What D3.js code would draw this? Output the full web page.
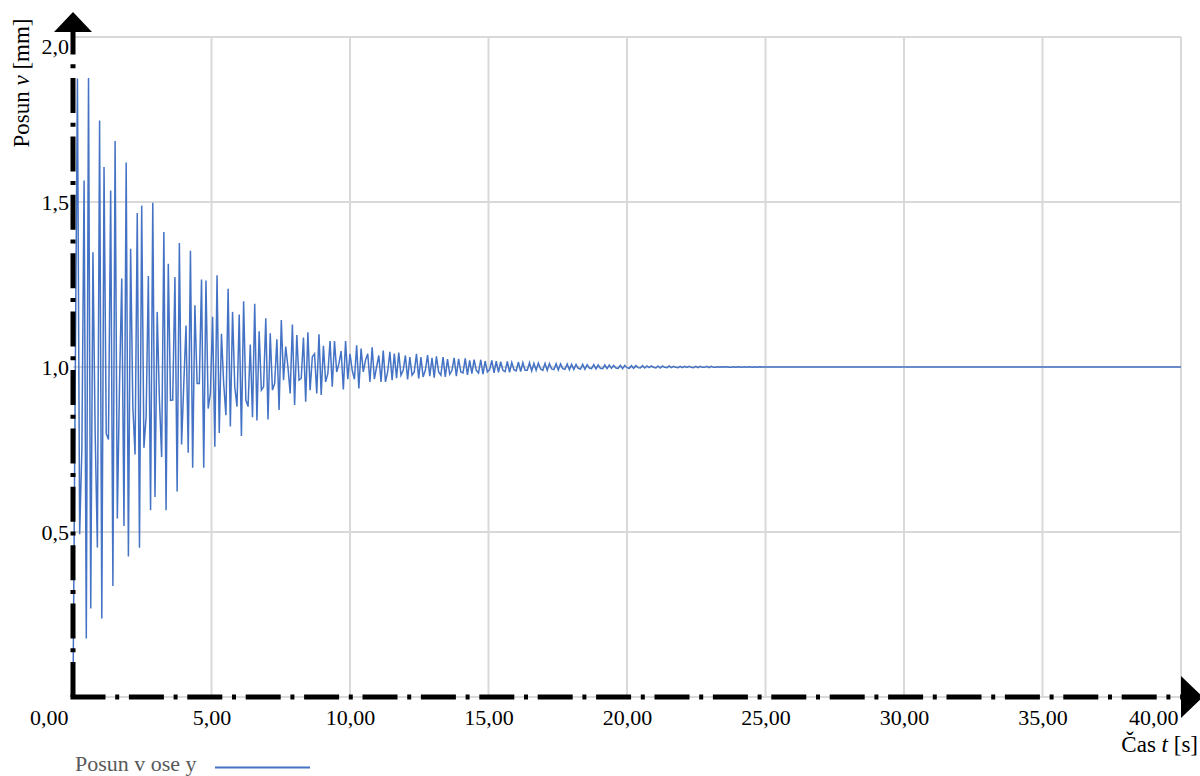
<!DOCTYPE html>
<html>
<head>
<meta charset="utf-8">
<script src="https://cdn.jsdelivr.net/npm/d3@7"></script>
<style>
  body { margin: 0; background: #ffffff; }
  svg { display: block; }
</style>
</head>
<body>
<svg id="chart" width="1200" height="776"></svg>
<script>
// ---- data ----
const sampleStep = 0.08; // s between samples
const displacement = [
  0.00, 0.95, 1.874, 0.493, 0.75, 1.565, 0.177, 1.876, 0.268, 1.348,
  0.80, 0.453, 1.747, 0.238, 1.606, 0.798, 0.78, 1.535, 0.336, 1.685,
  0.541, 0.95, 1.268, 0.518, 1.62, 0.426, 1.358, 0.88, 0.735, 1.467,
  0.452, 1.489, 0.755, 0.85, 1.276, 0.566, 1.498, 0.606, 1.167, 0.90,
  0.727, 1.409, 0.566, 1.313, 0.899, 0.90, 1.273, 0.623, 1.376, 0.765,
  0.95, 1.126, 0.74, 1.352, 0.695, 1.187, 0.95, 0.95, 1.265, 0.695,
  1.262, 0.874, 0.92, 1.152, 0.758, 1.278, 0.80, 1.101, 0.95, 0.854,
  1.237, 0.82, 1.167, 0.94, 0.88, 1.159, 0.791, 1.199, 0.90, 0.88,
  1.068, 0.848, 1.192, 0.838, 1.108, 0.93, 0.94, 1.148, 0.841, 1.102,
  0.93, 0.95, 1.084, 0.87, 1.142, 0.96, 1.062, 1.00, 0.92, 1.129,
  0.885, 1.097, 0.96, 0.966, 1.089, 0.895, 1.105, 0.93, 1.031, 1.04,
  0.92, 1.099, 0.915, 1.064, 0.955, 0.98, 1.079, 0.94, 1.079, 0.985,
  1.01, 1.048, 0.932, 1.079, 0.963, 1.04, 0.99, 0.963, 1.066, 0.935,
  1.056, 0.985, 1.021, 1.04, 0.955, 1.06, 0.963, 1.00, 1.035, 0.955,
  1.05, 0.955, 0.985, 1.046, 0.96, 1.041, 0.966, 1.044, 0.975, 0.99,
  1.035, 0.962, 1.03, 0.975, 0.985, 1.04, 0.965, 1.03, 0.97, 0.99,
  1.036, 0.972, 1.028, 0.968, 1.032, 0.985, 0.975, 1.03, 0.97, 1.024,
  0.978, 0.99, 1.028, 0.972, 1.025, 0.985, 0.982, 1.026, 0.976, 1.02,
  0.98, 1.022, 0.99, 0.982, 1.022, 0.978, 1.018, 0.985, 0.992, 1.02,
  0.982, 1.018, 0.984, 1.016, 0.99, 0.986, 1.017, 0.984, 1.014, 0.992,
  0.988, 1.015, 0.986, 1.013, 0.99, 0.99, 1.013, 0.988, 1.011, 0.99,
  1.012, 0.994, 0.99, 1.011, 0.99, 1.01, 0.994, 0.992, 1.01, 0.991,
  1.009, 0.995, 0.993, 1.009, 0.992, 1.008, 0.993, 1.008, 0.996, 0.994,
  1.008, 0.993, 1.007, 0.997, 0.995, 1.007, 0.994, 1.006, 0.996, 0.995,
  1.006, 0.995, 1.006, 0.996, 1.005, 0.997, 0.996, 1.005, 0.995, 1.005,
  0.998, 0.996, 1.004, 0.996, 1.004, 0.998, 0.997, 1.004, 0.997, 1.003,
  0.998, 1.003, 0.999, 0.997, 1.003, 0.997, 1.003, 0.999, 0.998, 1.003,
  0.998, 1.002, 0.999, 0.998, 1.002, 0.998, 1.002, 0.999, 1.002, 0.999,
  0.998, 1.002, 0.998, 1.002, 0.999, 0.999, 1.002, 0.998, 1.002, 0.999,
  0.999, 1.001, 0.999, 1.001, 1.0, 1.001, 0.999, 0.999, 1.001, 0.999,
  1.001, 1.0, 0.999, 1.001, 0.999, 1.001, 1.0, 0.999, 1.001, 0.999,
  1.001, 1.0, 1.0
];
const tailTime = [40.0];
const tailValue = [1.0];

const xTicks = [0, 5, 10, 15, 20, 25, 30, 35, 40];
const xTickLabels = ["0,00", "5,00", "10,00", "15,00", "20,00", "25,00", "30,00", "35,00", "40,00"];
const yGrid = [0, 0.5, 1.0, 1.5, 2.0];
const yTicks = [0.5, 1.0, 1.5, 2.0];
const yTickLabels = ["0,5", "1,0", "1,5", "2,0"];
const seriesName = "Posun v ose y";

// ---- drawing ----
const FONT = "'Liberation Serif', 'Times New Roman', serif";
const BLUE = "#4472C4";
const svg = d3.select("#chart");

const x = d3.scaleLinear().domain([0, 40]).range([73, 1181]);
const y = d3.scaleLinear().domain([0, 2]).range([697, 37]);

// grid
const grid = svg.append("g").attr("stroke", "#d9d9d9").attr("stroke-width", 2);
grid.selectAll("line.v").data(xTicks.slice(1)).join("line")
  .attr("class", "v")
  .attr("x1", d => x(d)).attr("x2", d => x(d))
  .attr("y1", y(0)).attr("y2", y(2));
grid.selectAll("line.h").data(yGrid).join("line")
  .attr("class", "h")
  .attr("x1", x(0)).attr("x2", x(40))
  .attr("y1", d => y(d)).attr("y2", d => y(d));

// series
const points = displacement.map((v, i) => ({ t: i * sampleStep, v }))
  .concat(tailTime.map((t, k) => ({ t, v: tailValue[k] })));
svg.append("path")
  .datum(points)
  .attr("fill", "none")
  .attr("stroke", BLUE)
  .attr("stroke-width", 1.5)
  .attr("stroke-linejoin", "miter")
  .attr("d", d3.line().x(d => x(d.t)).y(d => y(d.v)));

// axis lines (dash-dot) with arrows
const dash = "35,9.7,4,9.7";
svg.append("line")
  .attr("x1", x(0)).attr("x2", x(0))
  .attr("y1", y(0)).attr("y2", y(2) - 5)
  .attr("stroke", "#000").attr("stroke-width", 5)
  .attr("stroke-dasharray", dash);
svg.append("line")
  .attr("x1", x(0) - 2.5).attr("x2", x(40))
  .attr("y1", y(0)).attr("y2", y(0))
  .attr("stroke", "#000").attr("stroke-width", 5)
  .attr("stroke-dasharray", dash);
svg.append("path")
  .attr("d", `M${x(0)},${y(2) - 25} L${x(0) + 19},${y(2) - 5} L${x(0) - 19},${y(2) - 5} Z`)
  .attr("fill", "#000");
svg.append("path")
  .attr("d", `M${x(40) + 22},${y(0)} L${x(40)},${y(0) - 21} L${x(40)},${y(0) + 21} Z`)
  .attr("fill", "#000");

// x tick labels
const gx = svg.append("g")
  .attr("transform", "translate(0,725)")
  .call(d3.axisBottom(x).tickValues(xTicks).tickFormat((d, i) => xTickLabels[i]).tickSize(0).tickPadding(0));
gx.select(".domain").remove();
gx.selectAll("text")
  .attr("y", 0).attr("dy", null)
  .attr("fill", "#000")
  .style("font-family", FONT).style("font-size", "22px");
gx.selectAll("text").filter((d, i) => i === 0).attr("text-anchor", "end").attr("x", -5);
gx.selectAll("text").filter((d, i) => i === xTicks.length - 1).attr("text-anchor", "end").attr("x", -3);

// y tick labels
const gy = svg.append("g")
  .attr("transform", `translate(${x(0)},0)`)
  .call(d3.axisLeft(y).tickValues(yTicks).tickFormat((d, i) => yTickLabels[i]).tickSize(0).tickPadding(4));
gy.select(".domain").remove();
gy.selectAll("text")
  .attr("fill", "#000")
  .style("font-family", FONT).style("font-size", "22px");
gy.selectAll("text").filter(d => d === 2).attr("dy", "0.75em");

// axis titles
const yt = svg.append("text")
  .attr("transform", "translate(29,83) rotate(-90)")
  .attr("text-anchor", "middle")
  .style("font-family", FONT).style("font-size", "23px").attr("fill", "#000");
yt.append("tspan").text("Posun ");
yt.append("tspan").style("font-style", "italic").text("v");
yt.append("tspan").text(" [mm]");

const xt = svg.append("text")
  .attr("x", 1198).attr("y", 752)
  .attr("text-anchor", "end")
  .style("font-family", FONT).style("font-size", "23px").attr("fill", "#000");
xt.append("tspan").text("Čas ");
xt.append("tspan").style("font-style", "italic").text("t");
xt.append("tspan").text(" [s]");

// legend
svg.append("text")
  .attr("x", 75).attr("y", 771)
  .style("font-family", FONT).style("font-size", "22px")
  .attr("fill", "#595959")
  .text(seriesName);
svg.append("line")
  .attr("x1", 215).attr("x2", 310)
  .attr("y1", 767.5).attr("y2", 767.5)
  .attr("stroke", BLUE).attr("stroke-width", 2);
</script>
</body>
</html>
